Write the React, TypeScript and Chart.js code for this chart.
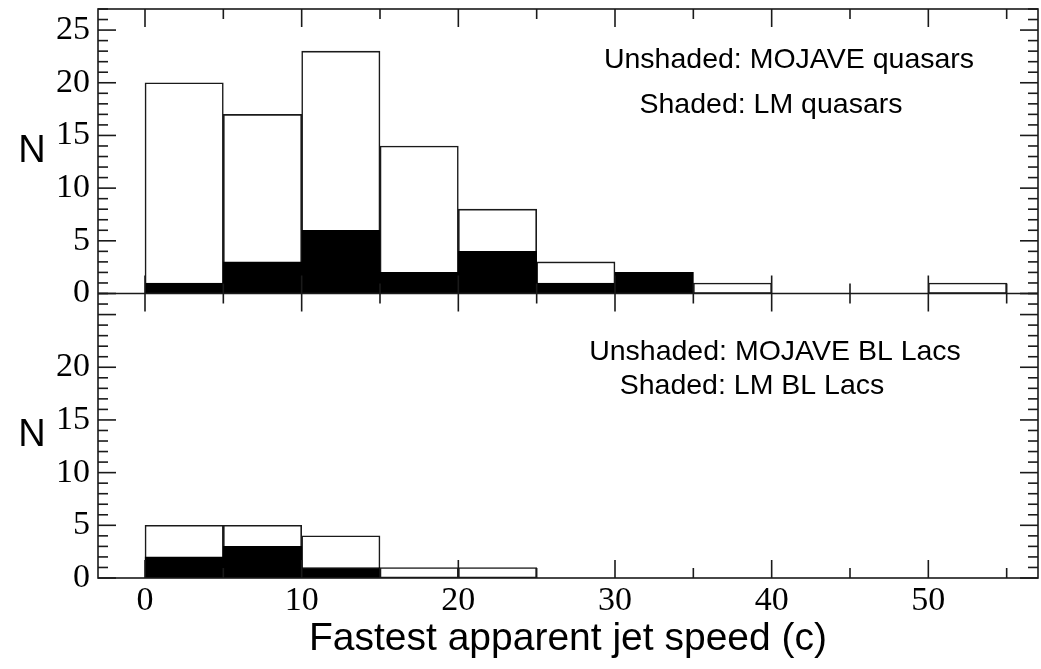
import React, { useEffect, useRef } from 'react';
import { Chart, registerables } from 'chart.js';

Chart.register(...registerables);

// ---- data ----
const binStarts = [0, 5, 10, 15, 20, 25, 30, 35, 40, 45, 50];
const binWidth = 5;
const mojaveQuasars = [20, 17, 23, 14, 8, 3, 2, 1, 0, 0, 1];
const lmQuasars = [1, 3, 6, 2, 4, 1, 2, 0, 0, 0, 0];
const mojaveBLLacs = [5, 5, 4, 1, 1, 0, 0, 0, 0, 0, 0];
const lmBLLacs = [2, 3, 1, 0, 0, 0, 0, 0, 0, 0, 0];

const xTickLabels = [0, 10, 20, 30, 40, 50];
const yTopTickLabels = [0, 5, 10, 15, 20, 25];
const yBottomTickLabels = [0, 5, 10, 15, 20];
const xMin = -3;
const xMax = 57;
const yMax = 27;

const xTitle = 'Fastest apparent jet speed (c)';
const yTitle = 'N';
const topNotes = ['Unshaded: MOJAVE quasars', 'Shaded: LM quasars'];
const bottomNotes = ['Unshaded: MOJAVE BL Lacs', 'Shaded: LM BL Lacs'];

const LINE = '#1a1a1a';
const SANS = '"Liberation Sans", Arial, Helvetica, sans-serif';
const SERIF = '"Liberation Serif", "Times New Roman", serif';

const toPoints = (vals: number[]) =>
  binStarts.map((s, i) => ({ x: s + binWidth / 2, y: vals[i] > 0 ? vals[i] : null }));

const framePlugin = {
  id: 'framePlugin',
  afterDatasetsDraw(chart: any) {
    const ctx = chart.ctx as CanvasRenderingContext2D;
    const { left, right, top, bottom } = chart.chartArea;
    const xs = chart.scales.x;
    const yt = chart.scales.yTop;
    const yb = chart.scales.yBottom;
    const mid = yt.getPixelForValue(0);
    const MAJ = 18;
    const MIN = 10;
    const line = (x1: number, y1: number, x2: number, y2: number) => {
      ctx.beginPath();
      ctx.moveTo(x1, y1);
      ctx.lineTo(x2, y2);
      ctx.stroke();
    };
    ctx.save();
    ctx.strokeStyle = LINE;
    ctx.lineWidth = 1.6;
    ctx.strokeRect(left, top, right - left, bottom - top);
    line(left, mid, right, mid);
    for (let v = 0; v <= 55; v += 5) {
      const px = xs.getPixelForValue(v);
      const len = v % 10 === 0 ? MAJ : MIN;
      line(px, top, px, top + len);
      line(px, mid - len, px, mid + len);
      line(px, bottom, px, bottom - len);
    }
    for (const s of [yt, yb]) {
      for (let v = 0; v <= yMax; v++) {
        const py = s.getPixelForValue(v);
        const len = v % 5 === 0 ? MAJ : MIN;
        line(left, py, left + len, py);
        line(right, py, right - len, py);
      }
    }
    ctx.restore();
  },
  afterDraw(chart: any) {
    const ctx = chart.ctx as CanvasRenderingContext2D;
    const yt = chart.scales.yTop;
    const yb = chart.scales.yBottom;
    ctx.save();
    ctx.fillStyle = '#000';
    ctx.textAlign = 'center';
    ctx.textBaseline = 'middle';
    ctx.font = `38px ${SANS}`;
    ctx.fillText(yTitle, 32, (yt.top + yt.bottom) / 2);
    ctx.fillText(yTitle, 32, (yb.top + yb.bottom) / 2);
    ctx.textBaseline = 'alphabetic';
    ctx.font = `28.5px ${SANS}`;
    ctx.fillText(topNotes[0], 789, 68);
    ctx.fillText(topNotes[1], 771, 113);
    ctx.fillText(bottomNotes[0], 775, 360);
    ctx.fillText(bottomNotes[1], 752, 394);
    ctx.restore();
  },
};

const zeroPad = (s: any) => {
  s.paddingTop = 0;
  s.paddingBottom = 0;
  s.paddingLeft = 0;
  s.paddingRight = 0;
};

export default function App() {
  const ref = useRef<HTMLCanvasElement>(null);
  useEffect(() => {
    const canvas = ref.current;
    if (!canvas) return;
    const yCommon = (ticksList: number[], weight: number) => ({
      type: 'linear' as const,
      position: 'left' as const,
      stack: 'panels',
      stackWeight: 1,
      weight,
      min: 0,
      max: yMax,
      bounds: 'data' as const,
      grid: { display: false, drawTicks: false },
      border: { display: false },
      afterBuildTicks: (s: any) => {
        s.ticks = ticksList.map((v) => ({ value: v }));
      },
      afterFit: (s: any) => {
        s.width = 98;
        zeroPad(s);
      },
      ticks: {
        font: { family: SERIF, size: 34 },
        color: '#000',
        padding: 8,
        autoSkip: false,
      },
    });
    const chart = new Chart(canvas, {
      type: 'bar',
      data: {
        datasets: [
          {
            label: 'LM quasars',
            data: toPoints(lmQuasars) as any,
            yAxisID: 'yTop',
            backgroundColor: '#000',
            borderColor: '#000',
            borderWidth: 1,
            order: 0,
          },
          {
            label: 'MOJAVE quasars',
            data: toPoints(mojaveQuasars) as any,
            yAxisID: 'yTop',
            backgroundColor: '#fff',
            borderColor: LINE,
            borderWidth: 1.6,
            order: 1,
          },
          {
            label: 'LM BL Lacs',
            data: toPoints(lmBLLacs) as any,
            yAxisID: 'yBottom',
            backgroundColor: '#000',
            borderColor: '#000',
            borderWidth: 1,
            order: 0,
          },
          {
            label: 'MOJAVE BL Lacs',
            data: toPoints(mojaveBLLacs) as any,
            yAxisID: 'yBottom',
            backgroundColor: '#fff',
            borderColor: LINE,
            borderWidth: 1.6,
            order: 1,
          },
        ],
      },
      options: {
        animation: false,
        responsive: true,
        maintainAspectRatio: false,
        layout: { padding: { top: 9, right: 3, left: 0, bottom: 0 } },
        plugins: { legend: { display: false }, tooltip: { enabled: false } },
        datasets: {
          bar: {
            grouped: false,
            barPercentage: 1,
            categoryPercentage: 1,
            borderSkipped: false,
          },
        },
        scales: {
          x: {
            type: 'linear',
            position: 'bottom',
            min: xMin,
            max: xMax,
            bounds: 'data',
            offset: false,
            grid: { display: false, drawTicks: false, offset: false },
            border: { display: false },
            afterBuildTicks: (s: any) => {
              s.ticks = xTickLabels.map((v) => ({ value: v }));
            },
            afterFit: (s: any) => {
              s.height = 91;
              zeroPad(s);
            },
            ticks: {
              font: { family: SERIF, size: 34 },
              color: '#000',
              padding: 3,
              maxRotation: 0,
              autoSkip: false,
            },
            title: {
              display: true,
              text: xTitle,
              color: '#000',
              font: { family: SANS, size: 39 },
              padding: { top: 0, bottom: 6 },
            },
          },
          yBottom: yCommon(yBottomTickLabels, 0),
          yTop: yCommon(yTopTickLabels, 1),
        } as any,
      },
      plugins: [framePlugin],
    });
    return () => chart.destroy();
  }, []);

  return (
    <div style={{ position: 'absolute', left: 0, top: 0, width: 1041, height: 669, background: '#fff' }}>
      <canvas ref={ref} />
    </div>
  );
}
